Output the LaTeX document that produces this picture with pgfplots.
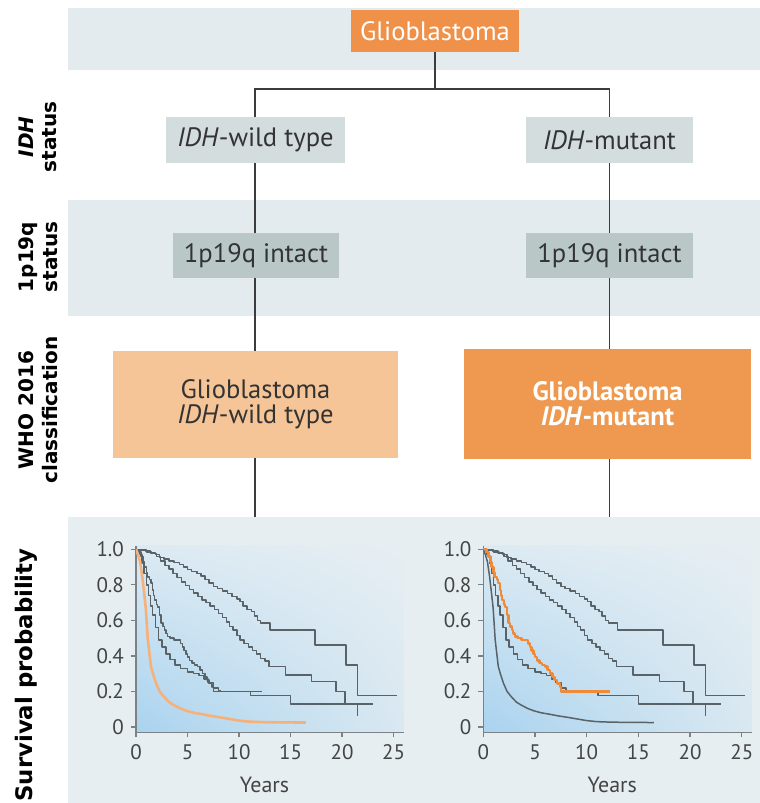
\documentclass[border=0pt]{standalone}
\usepackage{fontspec}
\setmainfont{PT Sans}
\newfontfamily\labelfont{DejaVu Sans}
\usepackage{pgfplots}
\pgfplotsset{compat=1.18}
\usepackage{pgfplotstable}
\usetikzlibrary{shadings}

\definecolor{band}{HTML}{E3EBEE}
\definecolor{panel}{HTML}{E6EEF2}
\definecolor{topbox}{HTML}{F0914A}
\definecolor{idhbox}{HTML}{D4DDDE}
\definecolor{codelbox}{HTML}{B9C8C7}
\definecolor{wtbox}{HTML}{F6C597}
\definecolor{mutbox}{HTML}{EE994F}
\definecolor{conn}{HTML}{3C3C3C}
\definecolor{boxtext}{HTML}{333333}
\definecolor{curvegrey}{HTML}{596266}
\definecolor{wtcurve}{HTML}{F6B07A}
\definecolor{mutcurve}{HTML}{EE8A38}
\definecolor{axisgrey}{HTML}{7A8286}
\definecolor{tickgrey}{HTML}{444444}
\definecolor{shadeblue}{HTML}{A9D3EF}
\definecolor{shadeleft}{HTML}{DCEAF3}
\definecolor{shaderight}{HTML}{D9E8F1}

% Kaplan--Meier curves (years, survival probability)
\pgfplotstableread{
x y
0 1.0
0.4 0.995
0.9 0.99
1.4 0.98
1.9 0.97
2.3 0.955
2.7 0.945
3.2 0.935
3.7 0.925
4.2 0.915
4.6 0.90
5.0 0.885
5.4 0.875
5.9 0.865
6.3 0.85
6.7 0.83
7.1 0.81
7.5 0.79
7.9 0.78
8.4 0.765
8.9 0.75
9.3 0.735
9.8 0.72
10.1 0.705
10.4 0.68
10.8 0.66
11.2 0.65
11.5 0.625
11.8 0.60
12.1 0.585
13.0 0.546
17.4 0.461
20.4 0.349
21.5 0.176
25.3 0.176
}\curveA

\pgfplotstableread{
x y
0 1.0
0.5 0.995
1.0 0.985
1.5 0.975
2.0 0.96
2.4 0.935
2.8 0.91
3.2 0.89
3.6 0.865
4.0 0.84
4.4 0.815
4.8 0.795
5.2 0.775
5.6 0.755
6.0 0.735
6.4 0.715
6.8 0.70
7.2 0.68
7.6 0.66
8.0 0.64
8.4 0.615
8.8 0.59
9.1 0.565
9.4 0.545
9.8 0.515
10.1 0.49
10.5 0.47
10.9 0.45
11.3 0.43
11.7 0.41
12.1 0.385
12.5 0.37
12.9 0.34
14.5 0.293
17.05 0.255
19.4 0.199
20.3 0.129
21.5 0.062
}\curveB

\pgfplotstableread{
x y
0 1.0
0.3 0.97
0.6 0.92
0.8 0.865
1.0 0.80
1.2 0.74
1.4 0.68
1.6 0.63
1.9 0.56
2.2 0.49
2.5 0.45
2.9 0.41
3.3 0.38
3.8 0.35
4.3 0.33
5.0 0.31
5.6 0.30
6.1 0.29
6.6 0.27
7.0 0.25
7.5 0.22
8.0 0.205
8.2 0.20
11.1 0.176
15.0 0.129
23.0 0.129
}\curveC

\pgfplotstableread{
x y
0 1.0
0.3 0.985
0.5 0.96
0.7 0.93
0.8 0.90
1.0 0.87
1.1 0.845
1.3 0.83
1.45 0.81
1.6 0.77
1.7 0.74
1.8 0.715
2.0 0.69
2.1 0.675
2.3 0.63
2.45 0.585
2.6 0.565
2.75 0.545
2.9 0.525
3.05 0.51
3.3 0.50
3.7 0.49
4.0 0.49
4.3 0.47
4.5 0.45
4.65 0.43
4.85 0.41
5.0 0.395
5.2 0.375
5.45 0.36
5.7 0.35
5.95 0.34
6.2 0.32
6.45 0.30
6.7 0.28
6.9 0.265
7.1 0.245
7.4 0.225
7.5 0.20
12.25 0.20
}\curveD

\pgfplotstableread{
x y
0 1.0
0.2 0.97
0.4 0.93
0.6 0.85
0.8 0.75
0.95 0.67
1.15 0.49
1.45 0.34
1.7 0.29
1.95 0.246
2.3 0.20
2.7 0.171
3.2 0.14
3.65 0.124
4.3 0.104
4.95 0.09
5.6 0.08
6.4 0.072
7.2 0.063
8.2 0.054
9.0 0.046
10.0 0.036
11.0 0.03
12.5 0.027
14.5 0.026
16.5 0.025
}\curveE

\pgfplotsset{
  km/.style={
    scale only axis, width=133.9pt, height=93.3pt,
    anchor=origin,
    xmin=0, xmax=26, ymin=-0.03, ymax=1.02,
    axis x line=bottom, axis y line=left,
    axis line style={-, draw=axisgrey, line width=0.6pt},
    xtick={0,5,10,15,20,25},
    ytick={0,0.2,0.4,0.6,0.8,1},
    yticklabels={0,0.2,0.4,0.6,0.8,1.0},
    tick align=outside, major tick length=2.5pt,
    tick style={draw=axisgrey, line width=0.6pt},
    ticklabel style={font=\fontsize{10.5}{12}\selectfont, text=tickgrey},
    /pgf/number format/assume math mode=true,
    xlabel={Years},
    xlabel style={font=\fontsize{11}{13}\selectfont, text=tickgrey,
      at={(axis description cs:0.48,-0.282)}, anchor=center},
    axis background/.style={lower left=shadeblue, upper left=shadeleft,
      lower right=shaderight, upper right=panel},
    no markers,
    every axis plot/.append style={line join=round},
  },
  grey km/.style={const plot, draw=curvegrey, line width=0.75pt},
}

\begin{document}
\begin{tikzpicture}[x=0.5pt,y=0.5pt]
\useasboundingbox (0,0) rectangle (760,803);

% row bands
\fill[band] (68,795) rectangle (760,733);
\fill[band] (68,603) rectangle (760,487);
\fill[panel] (68,286) rectangle (760,0);

% connectors
\draw[conn, line width=0.8pt] (435,751) -- (435,714);
\draw[conn, line width=0.8pt] (255,286) -- (255,714) -- (609.5,714) -- (609.5,286);

% boxes
\fill[topbox] (351,793) rectangle (519,751);
\node[text=white, font=\fontsize{13.3}{15}\selectfont] at (435,772) {Glioblastoma};

\fill[idhbox] (166,686) rectangle (345,640);
\node[text=boxtext, font=\fontsize{13.3}{15}\selectfont] at (255.5,663) {\textit{IDH}-wild type};
\fill[idhbox] (526,686) rectangle (693,640);
\node[text=boxtext, font=\fontsize{13.3}{15}\selectfont] at (609.5,663) {\textit{IDH}-mutant};

\fill[codelbox] (173,570) rectangle (339,525);
\node[text=boxtext, font=\fontsize{13.3}{15}\selectfont] at (256,547.5) {1p19q intact};
\fill[codelbox] (526,570) rectangle (693,525);
\node[text=boxtext, font=\fontsize{13.3}{15}\selectfont] at (609.5,547.5) {1p19q intact};

\fill[wtbox] (113,452) rectangle (398,345);
\node[text=boxtext, align=center, font=\fontsize{13.3}{12.4}\selectfont] at (255.5,398.5) {Glioblastoma\\\textit{IDH}-wild type};
\fill[mutbox] (464,454) rectangle (751,344);
\node[text=white, align=center, font=\bfseries\fontsize{13.3}{12.4}\selectfont] at (607.5,399) {Glioblastoma\\\textit{IDH}-mutant};

% row labels
\node[rotate=90, align=center, text=black, font=\labelfont\bfseries\fontsize{10}{11.8}\selectfont] at (38,666) {\textit{IDH}\\status};
\node[rotate=90, align=center, text=black, font=\labelfont\bfseries\fontsize{10}{11.8}\selectfont] at (38,546) {1p19q\\status};
\node[rotate=90, align=center, text=black, font=\labelfont\bfseries\fontsize{10}{11.8}\selectfont] at (38,393) {WHO 2016\\classification};
\node[rotate=90, text=black, font=\labelfont\bfseries\fontsize{11.4}{13}\selectfont] at (26,128) {Survival probability};

% survival curves, IDH-wild type highlighted
\begin{axis}[km, at={(68pt,38pt)}]
  \addplot[grey km] table {\curveA};
  \addplot[grey km] table {\curveB};
  \addplot[grey km] table {\curveC};
  \addplot[grey km] table {\curveD};
  \addplot[draw=wtcurve, line width=1.3pt] table {\curveE};
\end{axis}

% survival curves, IDH-mutant highlighted
\begin{axis}[km, at={(241.65pt,38pt)}, width=134.4pt]
  \addplot[grey km] table {\curveA};
  \addplot[grey km] table {\curveB};
  \addplot[grey km] table {\curveC};
  \addplot[draw=curvegrey, line width=0.75pt] table {\curveE};
  \addplot[const plot, draw=mutcurve, line width=1.2pt] table {\curveD};
\end{axis}
\end{tikzpicture}
\end{document}
